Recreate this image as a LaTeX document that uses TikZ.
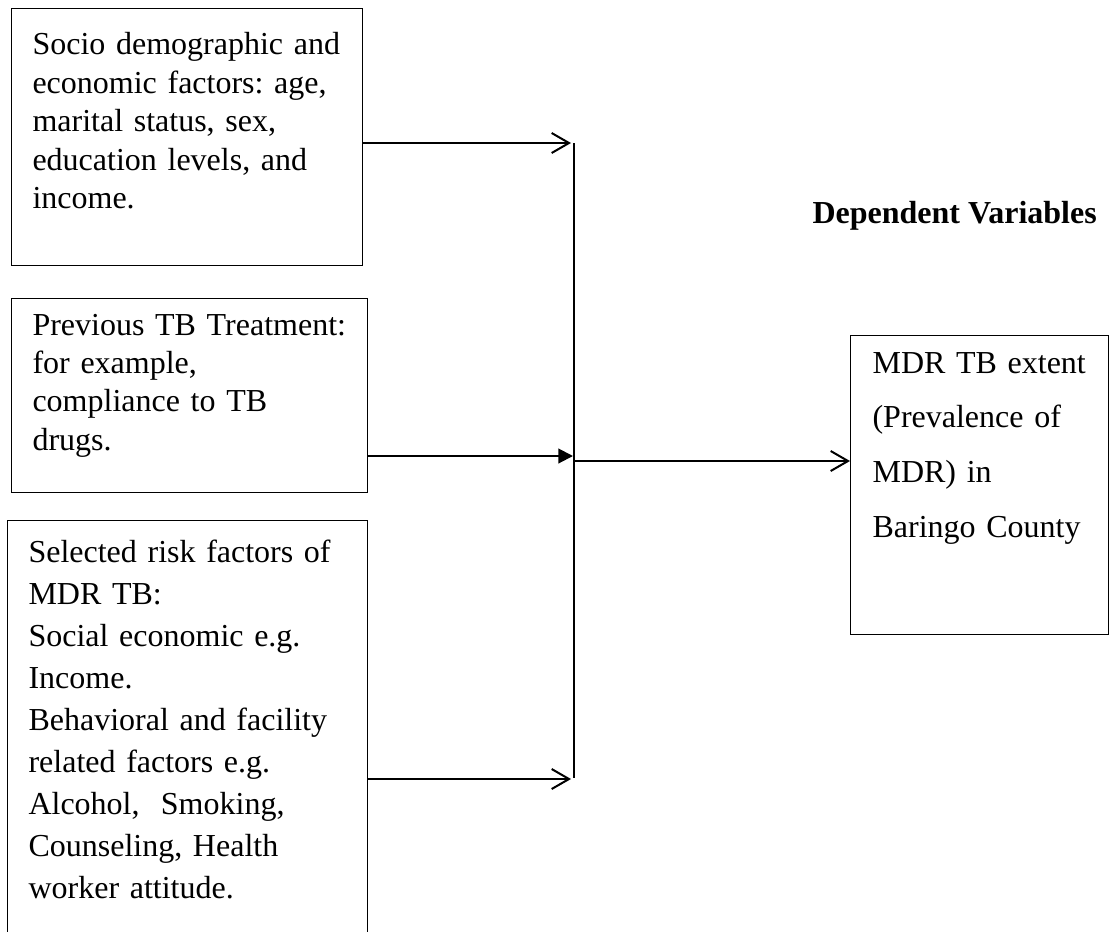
\documentclass[tikz,border=0pt]{standalone}
\usepackage{fontspec}
\setmainfont{Liberation Serif}
\frenchspacing
\usetikzlibrary{arrows.meta}
\tikzset{
  box/.style={draw, line width=0.5pt, anchor=north west, inner sep=0pt},
  txt/.style={anchor=base west, inner sep=0pt, align=left, text width=#1},
  open/.style={-{Straight Barb[length=6.5pt,width=7.5pt]}, line width=0.75pt},
  solid/.style={-{Triangle[length=5.5pt,width=5.5pt]}, line width=0.75pt}
}
\begin{document}
\begin{tikzpicture}[x=0.375pt, y=-0.375pt]
\useasboundingbox (0,0) rectangle (1110,931);
% independent variables
\node[box, minimum width=131.6pt, minimum height=96.4pt] (f1) at (11,8) {};
\node[box, minimum width=133.5pt, minimum height=72.8pt] (f2) at (11,298) {};
\node[box, minimum width=135pt, minimum height=167pt] (f3) at (7,520) {};
\node[txt=125pt, font=\fontsize{12pt}{14.4pt}\selectfont] (t1) at (32,55)
  {Socio demographic and\\economic factors: age,\\marital status, sex,\\education levels, and\\income.};
\node[txt=125pt, font=\fontsize{12pt}{14.4pt}\selectfont] (t2) at (32,335)
  {Previous TB Treatment:\\for example,\\compliance to TB\\drugs.};
\node[txt=125pt, font=\fontsize{12pt}{15.75pt}\selectfont] (t3) at (28,562)
  {Selected risk factors of\\MDR TB:\\Social economic e.g.\\Income.\\Behavioral and facility\\related factors e.g.\\Alcohol,\ \ Smoking,\\Counseling, Health\\worker attitude.};
% dependent variable
\node[anchor=base west, inner sep=0pt, font=\fontsize{12pt}{14pt}\selectfont\bfseries] (hd) at (812,223) {Dependent Variables};
\node[box, minimum width=96.8pt, minimum height=112.1pt] (dv) at (850,335) {};
\node[txt=90pt, font=\fontsize{12pt}{20.6pt}\selectfont] (t4) at (872,373)
  {MDR TB extent\\(Prevalence of\\MDR) in\\Baringo County};
% connectors
\coordinate (top) at (574,143);
\coordinate (bot) at (574,778);
\coordinate (mid) at (574,461);
\coordinate (a1) at (571,143);
\coordinate (a2) at (573,456);
\coordinate (a3) at (571,779);
\draw[line width=0.5pt] (top) -- (bot);
\draw[open] (f1.east |- a1) -- (a1);
\draw[solid] (f2.east |- a2) -- (a2);
\draw[open] (f3.east |- a3) -- (a3);
\draw[open] (mid) -- (dv.west |- mid);
\end{tikzpicture}
\end{document}
